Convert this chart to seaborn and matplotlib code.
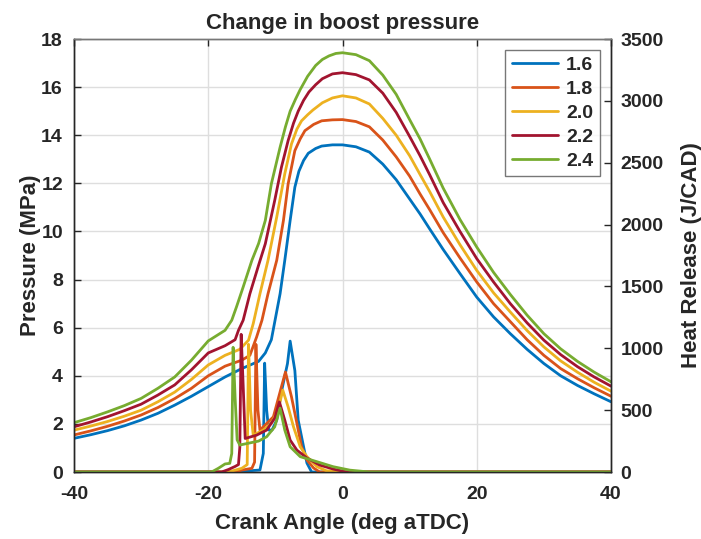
import numpy as np
import pandas as pd
import matplotlib
matplotlib.use("Agg")
import matplotlib.pyplot as plt
import seaborn as sns

# boost pressure cases (legend labels) and MATLAB-like colours
boost = ["1.6", "1.8", "2.0", "2.2", "2.4"]
colors = ["#0072BD", "#D95319", "#EDB120", "#A2142F", "#77AC30"]

# crank angles shared by every case on compression (before ignition) and expansion
comp_ang = [-40, -37.5, -35, -32.5, -30, -27.5, -25, -22.5, -20]
exp_ang = [2, 4, 6, 8, 10, 11.55, 13, 15, 17.5, 20, 22.5, 25, 27.5, 30, 32.5, 35, 37.5, 40]

# cylinder pressure (MPa)
p_comp_16 = [1.40, 1.55, 1.72, 1.92, 2.16, 2.44, 2.78, 3.15, 3.55]
p_comp_18 = [1.54, 1.71, 1.90, 2.12, 2.37, 2.68, 3.05, 3.48, 4.00]
p_comp_20 = [1.74, 1.91, 2.10, 2.32, 2.57, 2.92, 3.32, 3.85, 4.45]
p_comp_22 = [1.88, 2.08, 2.30, 2.55, 2.82, 3.20, 3.62, 4.25, 4.95]
p_comp_24 = [2.05, 2.26, 2.50, 2.76, 3.06, 3.48, 3.95, 4.65, 5.45]

# combustion part, angle/value per case (ends at TDC)
p_burn_ang_16 = [-17.5, -15, -12.5, -11.5, -10.6, -9.3, -8.6, -7.8, -7.1, -6.5, -5.8, -5.1, -4, -3.1, -1.5, 0]
p_burn_16 = [3.95, 4.3, 4.6, 4.95, 5.5, 7.41, 8.8, 10.46, 11.84, 12.5, 12.95, 13.25, 13.45, 13.55, 13.6, 13.6]
p_burn_ang_18 = [-17.5, -15, -13.8, -12.8, -12.0, -11.1, -9.8, -8.8, -8.1, -7.1, -6.3, -5.6, -4.3, -3.1, -1.5, 0]
p_burn_18 = [4.4, 4.65, 4.85, 5.61, 6.31, 7.41, 8.8, 10.46, 11.98, 13.36, 13.85, 14.19, 14.45, 14.6, 14.64, 14.65]
p_burn_ang_20 = [-17.5, -15.3, -14.0, -13.3, -12.3, -11.1, -9.8, -8.6, -7.6, -6.8, -6.1, -5.2, -4.4, -3, -1.5, 0]
p_burn_20 = [4.85, 5.1, 5.48, 6.17, 7.41, 8.8, 10.6, 12.4, 13.64, 14.25, 14.6, 14.85, 15.05, 15.35, 15.55, 15.64]
p_burn_ang_22 = [-17.5, -16, -15.5, -14.8, -13.8, -12.5, -11.5, -10.1, -9.1, -8.1, -7.3, -6.6, -5.8, -5, -4,
                 -3, -1.5, 0]
p_burn_22 = [5.25, 5.5, 5.89, 6.31, 7.41, 8.6, 9.49, 11.29, 12.67, 13.78, 14.5, 15.0, 15.45, 15.8, 16.1,
             16.35, 16.55, 16.6]
p_burn_ang_24 = [-17.5, -16.5, -15.8, -14.8, -13.5, -12.5, -11.5, -10.6, -9.3, -8.5, -7.8, -7, -6.3, -5.2,
                 -4, -3, -2, -1, 0]
p_burn_24 = [5.89, 6.31, 6.86, 7.69, 8.8, 9.5, 10.46, 11.98, 13.5, 14.35, 15.0, 15.5, 15.9, 16.45,
             16.9, 17.15, 17.3, 17.4, 17.43]

p_exp_16 = [13.52, 13.3, 12.8, 12.15, 11.35, 10.73, 10.1, 9.25, 8.25, 7.27, 6.45, 5.75, 5.1, 4.51, 4.0, 3.6, 3.25, 2.92]
p_exp_18 = [14.57, 14.35, 13.8, 13.1, 12.3, 11.56, 10.9, 9.95, 8.9, 7.9, 7.0, 6.25, 5.5, 4.85, 4.3, 3.88, 3.5, 3.15]
p_exp_20 = [15.55, 15.3, 14.7, 14.0, 13.15, 12.37, 11.65, 10.6, 9.45, 8.38, 7.45, 6.65, 5.88, 5.2, 4.62, 4.15, 3.73, 3.36]
p_exp_22 = [16.52, 16.3, 15.75, 14.95, 13.95, 13.15, 12.35, 11.2, 10.0, 8.87, 7.9, 7.0, 6.2, 5.48, 4.88, 4.38, 3.95, 3.57]
p_exp_24 = [17.35, 17.1, 16.5, 15.7, 14.65, 13.85, 13.0, 11.8, 10.5, 9.35, 8.3, 7.38, 6.52, 5.75, 5.12, 4.6, 4.15, 3.75]

# heat release rate (J/CAD)
h_ang_16 = [-40, -15, -13.8, -12.3, -11.8, -11.6, -11.3, -11.0, -10.5, -9.8, -9.1, -8.2, -7.8, -7.1, -6.6,
            -5.8, -5.3, -4.6, 40]
h_val_16 = [0, 0, 10, 16, 150, 880, 500, 339, 339, 419, 648, 876, 1058, 820, 419, 204, 72, 0, 0]

h_ang_18 = [-40, -16, -15, -13.5, -13.1, -12.9, -12.6, -12.3, -11.3, -10.3, -9.1, -8.5, -7.6, -6.8, -6.1,
            -5.3, -4.3, -3.4, 40]
h_val_18 = [0, 0, 15, 30, 80, 1032, 500, 339, 392, 446, 688, 808, 607, 395, 204, 97, 32, 0, 0]

h_ang_20 = [-40, -17, -16, -15, -14.2, -14.0, -13.7, -13.3, -11.8, -10.6, -9.6, -8.9, -8.1, -7.3, -6.3,
            -5.3, -3.8, -2.4, 0, 40]
h_val_20 = [0, 0, 15, 30, 60, 1032, 500, 298, 339, 395, 500, 662, 526, 365, 204, 124, 43, 10, 0, 0]

h_ang_22 = [-40, -18, -17, -16, -15.5, -15.3, -15.1, -14.8, -14.5, -12.8, -11.3, -10.1, -9.4, -8.6, -7.8,
            -6.8, -5.3, -3.4, -1.4, 0.6, 40]
h_val_22 = [0, 0, 20, 45, 60, 200, 1113, 700, 271, 298, 339, 435, 566, 419, 258, 177, 113, 56, 24, 0, 0]

h_ang_24 = [-40, -19.5, -18.5, -17.5, -16.8, -16.5, -16.3, -16.0, -15.7, -15.3, -12.5, -11.3, -10.1, -9.3,
            -8.6, -7.8, -6.3, -3.8, -1.4, 1.1, 4, 40]
h_val_24 = [0, 0, 30, 65, 70, 150, 1008, 600, 260, 218, 250, 285, 365, 516, 339, 204, 124, 83, 43, 15, 0, 0]

pressure = [
    (comp_ang + p_burn_ang_16 + exp_ang, p_comp_16 + p_burn_16 + p_exp_16),
    (comp_ang + p_burn_ang_18 + exp_ang, p_comp_18 + p_burn_18 + p_exp_18),
    (comp_ang + p_burn_ang_20 + exp_ang, p_comp_20 + p_burn_20 + p_exp_20),
    (comp_ang + p_burn_ang_22 + exp_ang, p_comp_22 + p_burn_22 + p_exp_22),
    (comp_ang + p_burn_ang_24 + exp_ang, p_comp_24 + p_burn_24 + p_exp_24),
]
heat = [(h_ang_16, h_val_16), (h_ang_18, h_val_18), (h_ang_20, h_val_20),
        (h_ang_22, h_val_22), (h_ang_24, h_val_24)]

sns.set_style("white")
plt.rcParams["font.family"] = ["Liberation Sans", "DejaVu Sans"]
plt.rcParams["font.weight"] = "bold"
plt.rcParams["axes.unicode_minus"] = False

fig = plt.figure(figsize=(7.01, 5.39), dpi=100)
ax = fig.add_axes([0.1056, 0.1243, 0.766, 0.8033])
ax2 = ax.twinx()

lw = 2.0
for (ang, val), lab, c in zip(pressure, boost, colors):
    df = pd.DataFrame({"angle": ang, "p": val})
    sns.lineplot(data=df, x="angle", y="p", ax=ax, color=c, linewidth=lw, label=lab,
                 estimator=None, sort=False)

for (ang, val), c in zip(heat, colors):
    df = pd.DataFrame({"angle": ang, "hr": val})
    sns.lineplot(data=df, x="angle", y="hr", ax=ax2, color=c, linewidth=lw,
                 estimator=None, sort=False, legend=False)

ax.set_xlim(-40, 40)
ax.set_ylim(0, 18)
ax2.set_ylim(0, 3500)
ax.set_xticks(np.arange(-40, 41, 20))
ax.set_yticks(np.arange(0, 19, 2))
ax2.set_yticks(np.arange(0, 3501, 500))

ax.grid(True, color="#dedede", linewidth=1.0)
ax.set_axisbelow(True)

ax.tick_params(axis="x", direction="in", length=5, width=1, labelsize=14, top=True, pad=10)
ax.tick_params(axis="y", direction="in", length=5, width=1, labelsize=14, pad=8)
ax2.tick_params(axis="y", direction="in", length=5, width=1, labelsize=14, pad=7)
for t in ax.get_xticklabels() + ax.get_yticklabels() + ax2.get_yticklabels():
    t.set_fontweight("bold")

ax.set_xlabel("Crank Angle (deg aTDC)", fontsize=16, fontweight="bold", labelpad=7)
ax.set_ylabel("Pressure (MPa)", fontsize=16, fontweight="bold", labelpad=0)
ax2.set_ylabel("Heat Release (J/CAD)", fontsize=16, fontweight="bold", labelpad=12)
ax.set_title("Change in boost pressure", fontsize=16, fontweight="bold", pad=7)

for a in (ax, ax2):
    for s in a.spines.values():
        s.set_color("#262626")
        s.set_linewidth(1.0)
    a.spines["top"].set_color("#777777")

leg = ax.legend(loc="upper right", bbox_to_anchor=(0.98, 0.975), fontsize=14, frameon=True,
                fancybox=False, edgecolor="#555555", handlelength=2.4, borderpad=0.35,
                labelspacing=0.32, handletextpad=0.4, borderaxespad=0)
leg.get_frame().set_linewidth(1.0)
for t in leg.get_texts():
    t.set_fontweight("bold")
leg.remove()
ax2.add_artist(leg)

fig.savefig("out.png", dpi=100)
